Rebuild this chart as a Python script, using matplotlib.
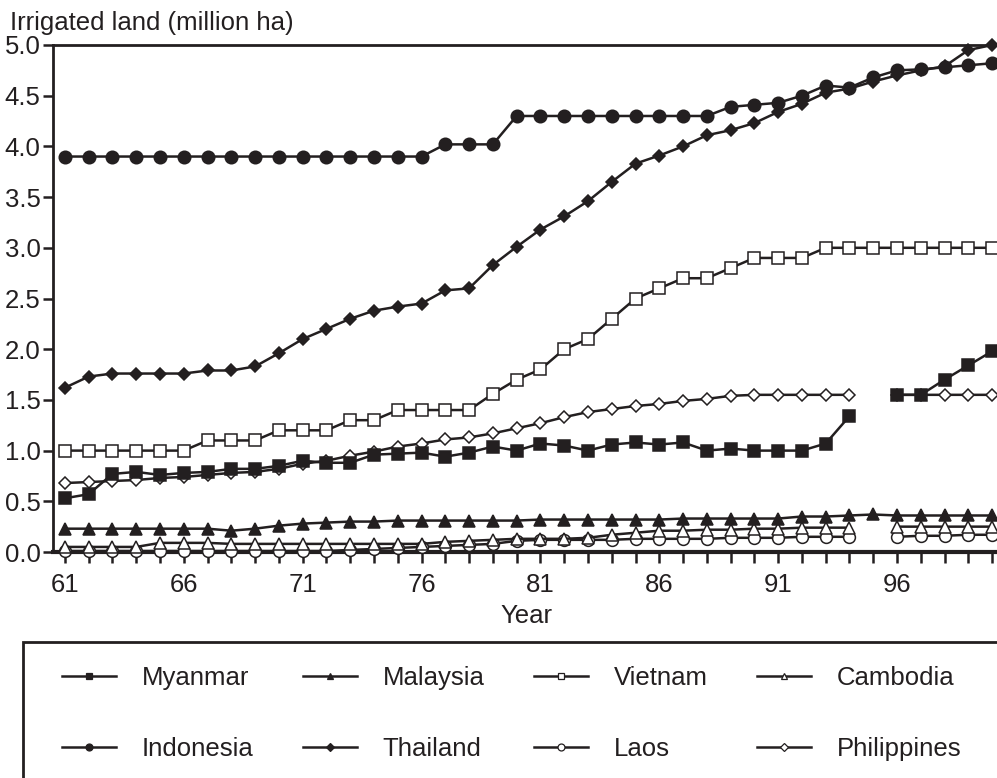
import numpy as np
import matplotlib
matplotlib.use("Agg")
import matplotlib.pyplot as plt
from matplotlib.lines import Line2D
from matplotlib.patches import Rectangle

plt.rcParams["font.family"] = ["Liberation Sans", "DejaVu Sans"]
INK = "#231f20"
FS = 18.5
nan = np.nan

years = np.arange(61, 101)

# ── data (million ha) ─────────────────────────────────────────────────────────
myanmar = [0.53, 0.57, 0.77, 0.79, 0.76, 0.78, 0.79, 0.82, 0.82, 0.85,
           0.90, 0.88, 0.88, 0.96, 0.97, 0.98, 0.94, 0.98, 1.04, 1.00,
           1.07, 1.05, 1.00, 1.06, 1.08, 1.06, 1.08, 1.00, 1.02, 1.00,
           1.00, 1.00, 1.07, 1.34, nan, 1.55, 1.55, 1.70, 1.84, 1.98]
indonesia = [3.90]*16 + [4.02, 4.02, 4.02] + [4.30]*9 + \
            [4.39, 4.41, 4.43, 4.50, 4.60, 4.58, 4.68, 4.75, 4.76, 4.78, 4.80, 4.82]
malaysia = [0.23, 0.23, 0.23, 0.23, 0.23, 0.23, 0.23, 0.21, 0.23, 0.26,
            0.28, 0.29, 0.30, 0.30, 0.31, 0.31, 0.31, 0.31, 0.31, 0.31,
            0.32, 0.32, 0.32, 0.32, 0.32, 0.32, 0.33, 0.33, 0.33, 0.33,
            0.33, 0.35, 0.35, 0.36, 0.37, 0.36, 0.36, 0.36, 0.36, 0.36]
thailand = [1.62, 1.73, 1.76, 1.76, 1.76, 1.76, 1.79, 1.79, 1.83, 1.96,
            2.10, 2.20, 2.30, 2.38, 2.42, 2.45, 2.58, 2.60, 2.83, 3.01,
            3.18, 3.31, 3.46, 3.65, 3.83, 3.91, 4.00, 4.11, 4.16, 4.23,
            4.34, 4.42, 4.53, 4.57, 4.64, 4.70, 4.75, 4.79, 4.95, 5.00]
vietnam = [1.0]*6 + [1.1]*3 + [1.2]*3 + [1.3]*2 + [1.4]*4 + \
          [1.56, 1.70, 1.80, 2.00, 2.10, 2.30, 2.50, 2.60, 2.70, 2.70,
           2.80, 2.90, 2.90, 2.90] + [3.0]*8
laos = [0.01]*12 + [0.02, 0.03, 0.04, 0.05, 0.06, 0.07, 0.08, 0.11,
        0.12, 0.12, 0.12, 0.12, 0.13, 0.13, 0.13, 0.13, 0.14, 0.14,
        0.14, 0.15, 0.15, 0.15, nan, 0.15, 0.16, 0.16, 0.17, 0.17]
cambodia = [0.05, 0.05, 0.05, 0.05, 0.09, 0.09, 0.09, 0.08, 0.08, 0.08,
            0.08, 0.08, 0.08, 0.08, 0.08, 0.08, 0.10, 0.11, 0.12, 0.13,
            0.13, 0.13, 0.14, 0.17, 0.19, 0.21, 0.21, 0.22, 0.22, 0.23,
            0.23, 0.24, 0.24, 0.24, nan, 0.25, 0.25, 0.25, 0.25, 0.25]
philippines = [0.68, 0.69, 0.70, 0.71, 0.73, 0.74, 0.76, 0.78, 0.79, 0.82,
               0.87, 0.90, 0.95, 0.99, 1.04, 1.07, 1.11, 1.13, 1.17, 1.22,
               1.27, 1.33, 1.38, 1.41, 1.44, 1.46, 1.49, 1.51, 1.54, 1.55,
               1.55, 1.55, 1.55, 1.55, nan, 1.55, 1.55, 1.55, 1.55, 1.55]

# name, values, marker, face, size
series = [
    ("Laos",        laos,        "o", "white", 8.5),
    ("Cambodia",    cambodia,    "^", "white", 9),
    ("Malaysia",    malaysia,    "^", INK,     9),
    ("Philippines", philippines, "D", "white", 6.5),
    ("Myanmar",     myanmar,     "s", INK,     8),
    ("Vietnam",     vietnam,     "s", "white", 8.5),
    ("Thailand",    thailand,    "D", INK,     6.5),
    ("Indonesia",   indonesia,   "o", INK,     9),
]

fig = plt.figure(figsize=(9.97, 7.78), dpi=100)
ax = fig.add_axes([53/997, 1-552/778, 947/997, 507/778])

for name, vals, mk, fc, ms in series:
    ax.plot(years, vals, color=INK, lw=1.8, marker=mk, ms=ms, mfc=fc,
            mec=INK, mew=1.1, clip_on=False, zorder=3)

ax.set_xlim(60.5, 100.33)
ax.set_ylim(0, 5)
ax.set_yticks(np.arange(0, 5.01, 0.5))
ax.set_yticklabels([f"{v:.1f}" for v in np.arange(0, 5.01, 0.5)])
ax.set_xticks(np.arange(61, 97, 5))
ax.set_xticks(years, minor=True)
ax.tick_params(axis="both", which="both", direction="out", colors=INK,
               labelsize=FS, width=1.8)
ax.tick_params(axis="y", length=7, pad=2)
ax.tick_params(axis="x", which="both", length=8, pad=7)
for s in ax.spines.values():
    s.set_color(INK)
    s.set_linewidth(2)
ax.spines["bottom"].set_linewidth(3)
ax.spines["right"].set_visible(False)

ax.set_xlabel("Year", fontsize=FS, color=INK, labelpad=5)
fig.text(10/997, 1-30/778, "Irrigated land (million ha)", fontsize=FS,
         color=INK, ha="left", va="baseline")

# legend box, runs off the bottom and right edges
fig.patches.append(Rectangle((23/997, -0.05), 1.0, 1-642/778+0.05,
                             transform=fig.transFigure, fill=False,
                             edgecolor=INK, lw=2))

style = {n: (mk, fc) for n, _, mk, fc, _ in series}
order = ["Myanmar", "Indonesia", "Malaysia", "Thailand",
         "Vietnam", "Laos", "Cambodia", "Philippines"]
handles = [Line2D([], [], color=INK, lw=1.8, marker=style[n][0],
                  mfc=style[n][1], mec=INK, mew=0.9,
                  ms=4 if style[n][0] == "D" else 5) for n in order]
fig.legend(handles, order, ncol=4, frameon=False, fontsize=FS,
           loc="upper left", bbox_to_anchor=(52/997, 1-656/778),
           handlelength=2.1, handletextpad=1.0, columnspacing=1.92,
           labelspacing=1.8, labelcolor=INK, borderaxespad=0)

fig.savefig("out.png", dpi=100)
